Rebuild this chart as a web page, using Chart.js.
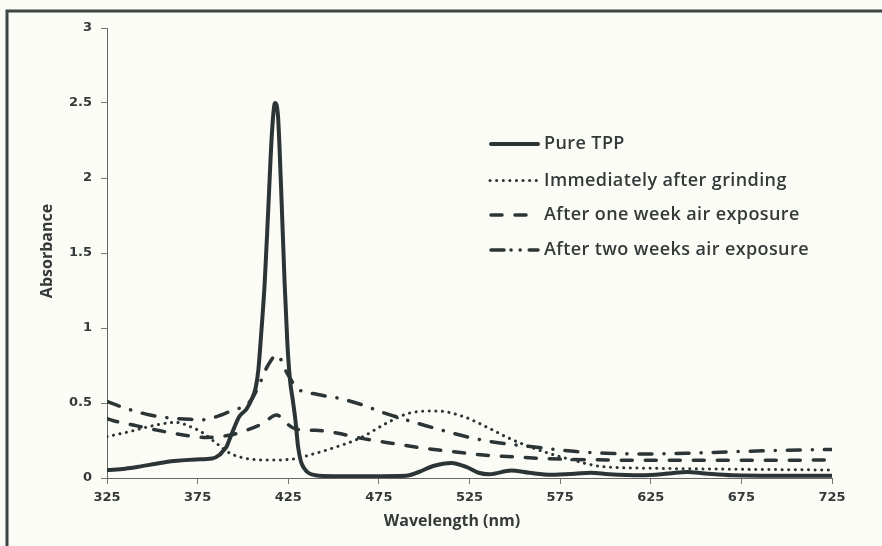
<!DOCTYPE html>
<html><head><meta charset="utf-8">
<script src="https://cdn.jsdelivr.net/npm/chart.js@4"></script>
<style>html,body{margin:0;padding:0;background:#fcfcf7;} canvas{display:block;}</style>
</head><body>
<canvas id="c" width="882" height="546"></canvas>
<script>
const seriesNames = ['Pure TPP', 'Immediately after grinding', 'After one week air exposure', 'After two weeks air exposure'];
const xTitle = 'Wavelength (nm)';
const yTitle = 'Absorbance';
const xTicks = [325, 375, 425, 475, 525, 575, 625, 675, 725];
const yTicks = [0, 0.5, 1, 1.5, 2, 2.5, 3];

const pureX = [325,335,343,352,362,374,383,387,389,391,393,395,398,402,405,407,408.5,410,412,414,416,417.7,419.3,421,423,424.5,426,427.5,429,430.4,432,433.5,436,440,450,470,490,497,505,515,524,530,536,548,558,570,583,592,602,620,635,645,655,670,700,725];
const pureY = [0.053,0.062,0.076,0.095,0.113,0.124,0.13,0.153,0.18,0.21,0.27,0.33,0.41,0.46,0.53,0.6,0.72,0.95,1.3,1.8,2.3,2.5,2.42,1.95,1.3,0.9,0.65,0.52,0.38,0.21,0.11,0.07,0.035,0.018,0.012,0.012,0.015,0.04,0.08,0.10,0.07,0.035,0.025,0.05,0.035,0.022,0.028,0.035,0.025,0.018,0.03,0.04,0.03,0.018,0.015,0.015];

const grindX = [325,337.7,352,363,371,378,385.5,393,402,415,429.7,435,449.7,464.6,479.3,492,507,521.5,534.5,547,560,578.6,598.6,625,675,725];
const grindY = [0.276,0.31,0.353,0.371,0.342,0.3,0.23,0.164,0.13,0.12,0.13,0.147,0.2,0.266,0.366,0.433,0.447,0.41,0.34,0.264,0.2,0.13,0.076,0.065,0.058,0.053];

const weekX = [325,328.5,339.5,350.6,361.6,370.8,380,393,400,411,418.6,424,429.7,440,451.7,464.6,482.8,499,516,532.5,549,565.5,582,625,675,725];
const weekY = [0.395,0.382,0.353,0.324,0.298,0.28,0.27,0.287,0.31,0.364,0.42,0.364,0.324,0.318,0.30,0.266,0.23,0.2,0.176,0.153,0.142,0.13,0.124,0.118,0.118,0.12];

const twoWeekX = [325,330,339.5,348.7,359.8,370.8,376,385.5,394.7,402,405.6,410,413.3,418.8,424.3,429.8,440.7,453.5,466,477.4,486.7,501.4,512.4,525.3,538,551,565.5,584,600,620,645,670,700,725];
const twoWeekY = [0.51,0.487,0.449,0.42,0.4,0.391,0.387,0.409,0.453,0.487,0.54,0.65,0.74,0.82,0.7,0.6,0.558,0.53,0.487,0.436,0.4,0.347,0.31,0.27,0.24,0.22,0.2,0.176,0.165,0.16,0.165,0.175,0.185,0.19];

const toPts = (xs, ys) => xs.map((x, i) => ({x: x, y: ys[i]}));
const INK = '#2b3535';
const TEXT = '#343a3a';
const lineStyles = [
  {borderDash: [], borderWidth: 4},
  {borderDash: [0.1, 6.5], borderWidth: 3},
  {borderDash: [11, 13], borderWidth: 3.5},
  {borderDash: [13, 12, 0.1, 12], borderWidth: 3.5}
];
const seriesData = [toPts(pureX, pureY), toPts(grindX, grindY), toPts(weekX, weekY), toPts(twoWeekX, twoWeekY)];

const datasets = seriesNames.map((name, i) => ({
  label: name,
  data: seriesData[i],
  borderColor: INK,
  backgroundColor: INK,
  borderWidth: lineStyles[i].borderWidth,
  borderDash: lineStyles[i].borderDash,
  borderCapStyle: 'round',
  borderJoinStyle: 'round',
  pointRadius: 0,
  fill: false,
  cubicInterpolationMode: 'monotone'
}));

const decor = {
  id: 'decor',
  beforeDraw(chart) {
    const ctx = chart.ctx;
    ctx.save();
    ctx.fillStyle = '#fcfcf7';
    ctx.fillRect(0, 0, chart.width, chart.height);
    ctx.strokeStyle = '#3d4545';
    ctx.lineWidth = 3;
    ctx.beginPath();
    ctx.moveTo(7, chart.height);
    ctx.lineTo(7, 11);
    ctx.lineTo(chart.width, 11);
    ctx.stroke();
    ctx.restore();
  },
  afterDraw(chart) {
    const ctx = chart.ctx;
    ctx.save();
    ctx.fillStyle = TEXT;
    ctx.font = 'bold 16px "Open Sans"';
    ctx.textAlign = 'center';
    ctx.textBaseline = 'middle';
    ctx.fillText(xTitle, 452, 521);
    ctx.translate(47, 251);
    ctx.rotate(-Math.PI / 2);
    ctx.fillText(yTitle, 0, 0);
    ctx.restore();

    // legend
    const rows = [144, 180.5, 215, 250];
    ctx.save();
    seriesNames.forEach((name, i) => {
      const y = rows[i];
      ctx.strokeStyle = INK;
      ctx.lineWidth = lineStyles[i].borderWidth;
      ctx.lineCap = 'round';
      ctx.setLineDash(i === 3 ? [13, 7, 0.1, 9, 0.1, 9] : lineStyles[i].borderDash);
      ctx.beginPath();
      ctx.moveTo(i === 1 ? 490 : 491, y);
      ctx.lineTo(538, y);
      ctx.stroke();
      ctx.setLineDash([]);
      ctx.fillStyle = TEXT;
      ctx.font = '600 18px "Open Sans"';
      ctx.letterSpacing = '0.4px';
      ctx.textAlign = 'left';
      ctx.textBaseline = 'middle';
      ctx.fillText(name, 544, y);
      ctx.letterSpacing = '0px';
    });
    ctx.restore();
  }
};

const tickFont = {family: 'DejaVu Sans', size: 13, weight: 'bold'};
new Chart(document.getElementById('c'), {
  type: 'line',
  data: {datasets: datasets},
  options: {
    responsive: false,
    animation: false,
    layout: {padding: {top: 28, right: 50, left: 0, bottom: 0}},
    plugins: {legend: {display: false}, tooltip: {enabled: false}},
    scales: {
      x: {
        type: 'linear', min: 325, max: 725,
        afterBuildTicks: s => { s.ticks = xTicks.map(v => ({value: v})); },
        afterFit: s => { s.height = 68; },
        grid: {drawOnChartArea: false, tickLength: 6, color: '#777', lineWidth: 1},
        border: {color: '#666', width: 1},
        ticks: {padding: 6, color: TEXT, font: tickFont, maxRotation: 0, autoSkip: false, callback: v => String(v)}
      },
      y: {
        type: 'linear', min: 0, max: 3,
        afterBuildTicks: s => { s.ticks = yTicks.map(v => ({value: v})); },
        afterFit: s => { s.width = 107; },
        grid: {drawOnChartArea: false, tickLength: 6, color: '#777', lineWidth: 1},
        border: {color: '#666', width: 1},
        ticks: {padding: 9, color: TEXT, font: tickFont, callback: v => String(v)}
      }
    }
  },
  plugins: [decor]
});
</script>
</body></html>
